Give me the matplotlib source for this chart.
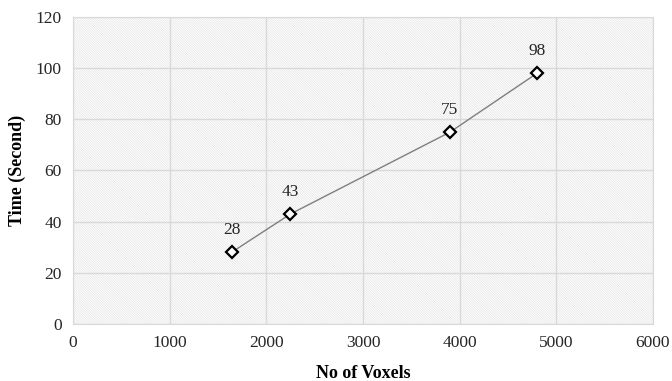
# Time vs number of voxels
import matplotlib
matplotlib.use('Agg')
import matplotlib.pyplot as plt
from matplotlib.patches import Rectangle

plt.rcParams['font.family'] = ['Liberation Serif', 'DejaVu Serif']
plt.rcParams['hatch.linewidth'] = 0.5

# Data
voxels = [1640, 2250, 3900, 4800]
times = [28, 43, 75, 98]

fig = plt.figure(figsize=(6.72, 3.81), dpi=100)
ax = fig.add_axes([0.1086, 0.1496, 0.8631, 0.8058])

# hatched background
bg = Rectangle((0, 0), 1, 1, transform=ax.transAxes, facecolor='white',
               edgecolor='#e4e4e4', hatch='\\' * 14, linewidth=0, zorder=0)
ax.add_patch(bg)

ax.plot(voxels, times, color='#7f7f7f', linewidth=1.0, zorder=3)
ax.plot(voxels, times, linestyle='none', marker='D', markersize=6.5,
        markerfacecolor='white', markeredgecolor='black', markeredgewidth=1.6, zorder=4)

for x, y in zip(voxels, times):
    ax.annotate(str(y), (x, y), xytext=(0, 10), textcoords='offset points',
                ha='center', va='bottom', fontsize=12.5, color='#262626')

ax.set_xlim(0, 6000)
ax.set_ylim(0, 120)
ax.set_xticks(range(0, 6001, 1000))
ax.set_yticks(range(0, 121, 20))
ax.grid(True, color='#d9d9d9', linewidth=1.0, zorder=1)
ax.set_axisbelow(True)
for s in ax.spines.values():
    s.set_color('#d9d9d9')
ax.tick_params(length=0, labelsize=12.5, labelcolor='#262626', pad=8)

ax.set_xlabel('No of Voxels', fontsize=13, fontweight='bold', labelpad=10)
ax.set_ylabel('Time (Second)', fontsize=13, fontweight='bold', labelpad=7)

plt.savefig('out.png', dpi=100)
